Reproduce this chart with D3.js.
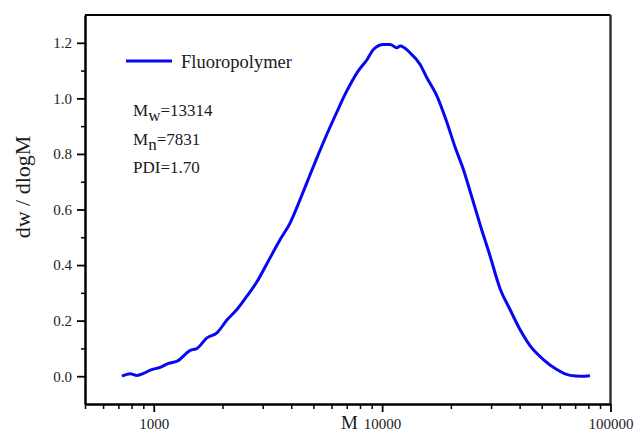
<!doctype html>
<html>
  <head>
    <script src="https://cdnjs.cloudflare.com/ajax/libs/d3/7.8.5/d3.min.js"></script>
    <style>
      body { margin: 0; background: #fff; }
      svg { display: block; }
      text { font-family: "Liberation Serif", "Times New Roman", serif; fill: #1a1a1a; }
      .axis path, .axis line { stroke: #000; }
      .axis text { font-size: 15px; font-family: "Liberation Serif", serif; fill: #222; }
      path.mwd { fill: none; stroke: #0808f0; stroke-width: 3; stroke-linejoin: round; }
    </style>
  </head>
  <body>
    <svg id="chart" width="636" height="434"></svg>
    <script>
      // molecular weight (M)
      var molWeight = [726, 789, 844, 902, 966, 1067, 1161, 1264, 1446, 1546, 1709, 1890,
        2091, 2312, 2557, 2830, 3129, 3577, 3957, 4375, 4680, 5175, 5723, 6330, 6890,
        7876, 8570, 9160, 10130, 10840, 11590, 11990, 13260, 14670, 15700, 17350, 19190,
        20860, 22690, 24700, 26860, 29710, 32840, 36310, 40150, 44420, 50820, 58190,
        66540, 74000, 81310];
      // dw / dlogM
      var dwdlogM = [0.000, 0.009, 0.003, 0.010, 0.022, 0.032, 0.046, 0.054, 0.093, 0.100,
        0.138, 0.156, 0.202, 0.240, 0.288, 0.340, 0.405, 0.492, 0.552, 0.636, 0.696,
        0.785, 0.870, 0.950, 1.015, 1.100, 1.138, 1.176, 1.194, 1.194, 1.182, 1.188,
        1.164, 1.122, 1.074, 1.010, 0.915, 0.825, 0.744, 0.645, 0.545, 0.432, 0.315,
        0.240, 0.168, 0.110, 0.060, 0.024, 0.003, 0.000, 0.002];

      var seriesName = "Fluoropolymer";
      var xMajorTicks = [1000, 10000, 100000];
      var yMajorTicks = [0.0, 0.2, 0.4, 0.6, 0.8, 1.0, 1.2];
      var yMinorTicks = [0.1, 0.3, 0.5, 0.7, 0.9, 1.1];
      var statLines = [
        ["M", "w", "=13314"],
        ["M", "n", "=7831"],
        ["PDI=1.70", "", ""]
      ];

      var margin = {top: 15, right: 25.5, bottom: 30, left: 85};
      var width = 636 - margin.left - margin.right;
      var height = 434 - margin.top - margin.bottom;

      var svg = d3.select("#chart");
      var g = svg.append("g")
        .attr("transform", "translate(" + margin.left + "," + margin.top + ")");

      var x = d3.scaleLog().domain([500, 100000]).range([0, width]);
      var y = d3.scaleLinear().domain([-0.1, 1.3]).range([height, 0]);

      // frame top / right
      g.append("line")
        .attr("x1", 0).attr("x2", width).attr("y1", 0).attr("y2", 0)
        .attr("stroke", "#000").attr("stroke-width", 2);
      g.append("line")
        .attr("x1", width).attr("x2", width).attr("y1", 0).attr("y2", height)
        .attr("stroke", "#333").attr("stroke-width", 2.5);

      // x axis: minor ticks then labelled majors
      var xMinor = x.ticks().filter(d => xMajorTicks.indexOf(d) < 0);
      g.append("g")
        .attr("class", "axis")
        .attr("transform", "translate(0," + height + ")")
        .call(d3.axisBottom(x).tickValues(xMinor).tickSize(5).tickFormat(""))
        .call(a => a.select(".domain").remove())
        .call(a => a.selectAll("line").attr("stroke-width", 1.5));
      g.append("g")
        .attr("class", "axis")
        .attr("transform", "translate(0," + height + ")")
        .call(d3.axisBottom(x).tickValues(xMajorTicks).tickSize(8).tickSizeOuter(0)
          .tickPadding(6).tickFormat(d3.format("d")))
        .call(a => a.select(".domain").attr("stroke-width", 2.5))
        .call(a => a.selectAll("line").attr("stroke-width", 1.8));

      // y axis
      g.append("g")
        .attr("class", "axis")
        .call(d3.axisLeft(y).tickValues(yMinorTicks).tickSize(4).tickFormat(""))
        .call(a => a.select(".domain").remove())
        .call(a => a.selectAll("line").attr("stroke-width", 1.5));
      g.append("g")
        .attr("class", "axis")
        .call(d3.axisLeft(y).tickValues(yMajorTicks).tickSize(8).tickSizeOuter(0)
          .tickPadding(5).tickFormat(d3.format(".1f")))
        .call(a => a.select(".domain").attr("stroke-width", 2.5))
        .call(a => a.selectAll("line").attr("stroke-width", 1.8));

      // axis titles
      svg.append("text")
        .attr("transform", "translate(30," + 187 + ") rotate(-90)")
        .attr("text-anchor", "middle")
        .style("font-size", "22px")
        .text("dw / dlogM");
      svg.append("text")
        .attr("x", 341).attr("y", 429)
        .style("font-size", "19px")
        .text("M");

      // curve
      var pts = molWeight.map((m, i) => [m, dwdlogM[i]]);
      g.append("path")
        .datum(pts)
        .attr("class", "mwd")
        .attr("d", d3.line().curve(d3.curveMonotoneX).x(d => x(d[0])).y(d => y(d[1])));

      // legend
      g.append("line")
        .attr("x1", 41).attr("x2", 87).attr("y1", 46).attr("y2", 46)
        .attr("stroke", "#0808f0").attr("stroke-width", 3);
      g.append("text")
        .attr("x", 96).attr("y", 52.5)
        .style("font-size", "18.5px")
        .text(seriesName);

      // Mw / Mn / PDI
      var stats = g.append("g").attr("transform", "translate(48,0)");
      statLines.forEach((s, i) => {
        var t = stats.append("text")
          .attr("x", 0).attr("y", 101 + i * 28.5)
          .style("font-size", "17px");
        t.append("tspan").text(s[0]);
        if (s[1]) {
          t.append("tspan").attr("dy", 5).text(s[1]);
          t.append("tspan").attr("dy", -5).text(s[2]);
        }
      });
    </script>
  </body>
</html>
